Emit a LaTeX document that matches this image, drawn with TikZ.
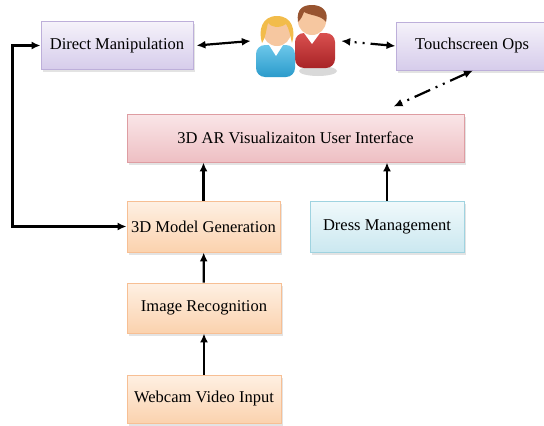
\documentclass[tikz,border=0pt]{standalone}
\usepackage{fontspec}
\setmainfont{Liberation Serif}
\usepackage{xcolor}
\usetikzlibrary{shadows,arrows.meta}

\definecolor{lavTop}{HTML}{F5F2FA}
\definecolor{lavBot}{HTML}{D6CCEB}
\definecolor{lavLine}{HTML}{BDAFDA}
\definecolor{pinkTop}{HTML}{FAE6E8}
\definecolor{pinkBot}{HTML}{EEBFC3}
\definecolor{pinkLine}{HTML}{DE9DA2}
\definecolor{orTop}{HTML}{FEF0E3}
\definecolor{orBot}{HTML}{FBD2AE}
\definecolor{orLine}{HTML}{F7BF94}
\definecolor{bluTop}{HTML}{F0F9FB}
\definecolor{bluBot}{HTML}{CBE8F0}
\definecolor{bluLine}{HTML}{9FD3E0}
\definecolor{shirtBlue}{HTML}{2B9BCB}
\definecolor{shirtBlueTop}{HTML}{6CC7EA}
\definecolor{shirtRed}{HTML}{A82326}
\definecolor{shirtRedTop}{HTML}{D9504F}
\definecolor{skin}{HTML}{F6C7A0}
\definecolor{hairBlond}{HTML}{F2BC4B}
\definecolor{hairBrown}{HTML}{985430}

\begin{document}
\begin{tikzpicture}[x=1pt,y=-1pt,
  box/.style={draw,line width=0.9pt,inner sep=0pt,minimum height=48pt,
    font=\fontsize{16.5}{19}\selectfont,
    drop shadow={shadow xshift=2pt,shadow yshift=-2.5pt,opacity=0.22}},
  manip/.style={box,draw=lavLine,top color=lavTop,bottom color=lavBot},
  view/.style={box,draw=pinkLine,top color=pinkTop,bottom color=pinkBot},
  stage/.style={box,draw=orLine,top color=orTop,bottom color=orBot},
  wardrobe/.style={box,draw=bluLine,top color=bluTop,bottom color=bluBot},
  tip/.tip={Latex[length=9pt,width=8pt]},
  link/.style={line width=2.2pt,-tip},
  touch/.style={link,tip-tip,dash pattern=on 17pt off 6pt on 2pt off 6pt on 2pt off 6pt}]
  \useasboundingbox (0,0) rectangle (544,426);

  % boxes
  \node[manip,minimum width=152pt] (dm) at (117,45.5) {Direct Manipulation};
  \node[manip,minimum width=152pt] (ts) at (472,46) {Touchscreen Ops};
  \node[view,minimum width=337pt] (ar) at (295.5,138) {3D AR Visualizaiton User Interface};
  \node[stage,minimum width=153pt,minimum height=51pt] (gen) at (203.5,226.5) {3D Model Generation};
  \node[wardrobe,minimum width=154pt,minimum height=51pt] (dress) at (387,226.5) {Dress Management};
  \node[stage,minimum width=154pt,minimum height=50pt] (rec) at (204,308) {Image Recognition};
  \node[stage,minimum width=154pt] (cam) at (204,399) {Webcam Video Input};
  \node[minimum width=90pt,minimum height=72pt,inner sep=0pt] (users) at (296,41) {};

  % the two users
  \fill[black,opacity=0.15] (318,71) ellipse (19 and 5);
  \shade[top color=shirtRedTop,bottom color=shirtRed,rounded corners=9pt]
    (295,68) rectangle (335,33);
  \fill[white] (304,33) -- (312,44) -- (320,33) -- cycle;
  \fill[skin] (312,21) circle (14);
  \fill[hairBrown] (298,22) .. controls (296,8) and (304,5) .. (312,5)
    .. controls (322,5) and (329,11) .. (326,22)
    .. controls (321,15) and (311,16) .. (304,12)
    .. controls (302,17) and (301,19) .. (298,22) -- cycle;
  \shade[top color=shirtBlueTop,bottom color=shirtBlue,rounded corners=9pt]
    (256,77) rectangle (295,45);
  \fill[white] (269,45) -- (276,56) -- (283,45) -- cycle;
  \fill[skin] (277,32) circle (14);
  \fill[hairBlond] (262,43) .. controls (258,30) and (262,16) .. (277,16)
    .. controls (292,16) and (296,30) .. (292,43)
    .. controls (290,35) and (289,28) .. (286,24)
    .. controls (279,29) and (271,27) .. (268,23)
    .. controls (266,30) and (266,37) .. (262,43) -- cycle;

  % connectors
  \draw[link,tip-tip] ([xshift=3pt]dm.east) -- (users.west);
  \draw[touch] (ts.west) -- (users.east);
  \draw[touch] ([xshift=1pt]ts.south) -- ([xshift=98pt,yshift=7pt]ar.north);
  \draw[link,tip-tip] (dm.west) -- ++(-28,0) |- (gen.west);
  \draw[link] (cam) -- (rec);
  \draw[link] (rec) -- (gen);
  \draw[link] (gen) -- (gen |- ar.south);
  \draw[link] (dress) -- (dress |- ar.south);
\end{tikzpicture}
\end{document}
